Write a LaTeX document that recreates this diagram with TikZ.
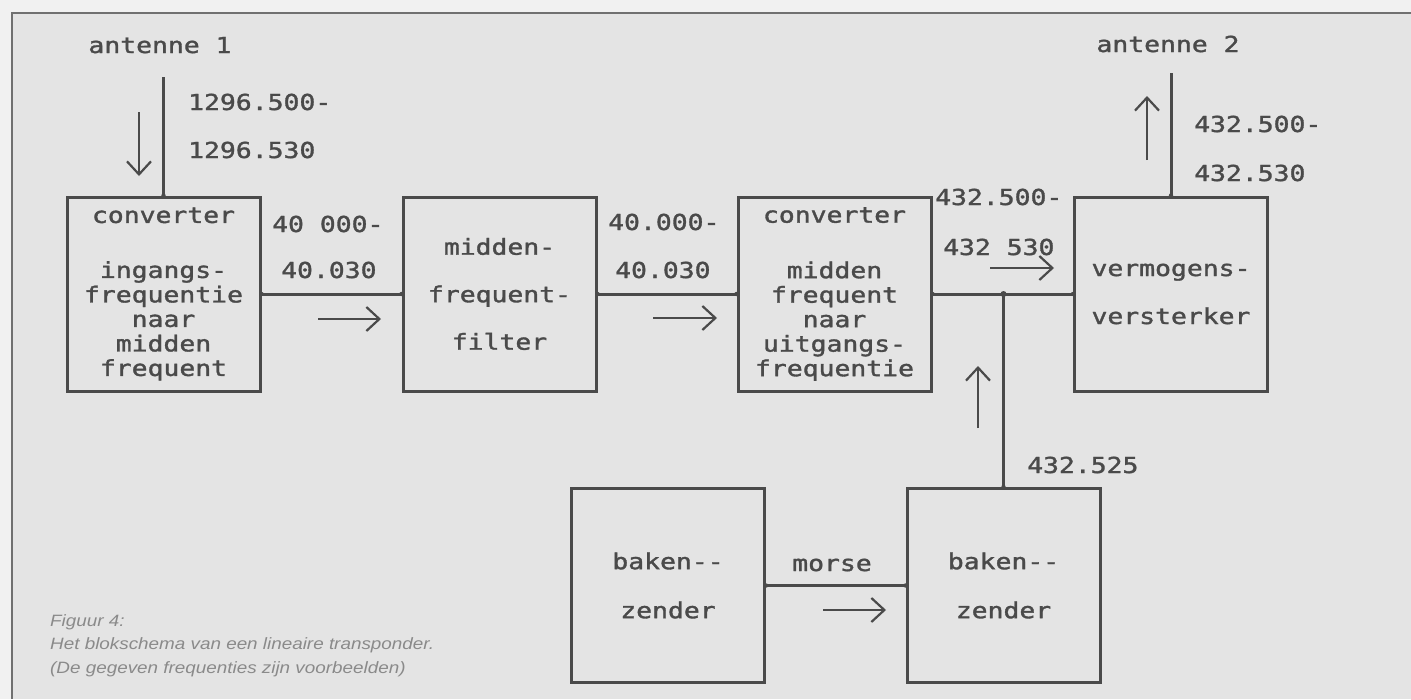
\documentclass[tikz,border=0pt]{standalone}
\usepackage{fontspec}
\usetikzlibrary{arrows.meta}
\newfontfamily\plotfont[FakeStretch=1.2,FakeBold=1.5]{DejaVu Sans Mono}
\newfontfamily\capfont[FakeStretch=1.15]{Liberation Sans}
\definecolor{bgc}{HTML}{E4E4E4}
\definecolor{outc}{HTML}{F1F1F1}
\definecolor{ink}{HTML}{4A4A4A}
\definecolor{framec}{HTML}{707070}
\definecolor{capc}{HTML}{8A8A8A}
\tikzset{
  blk/.style={draw=ink, line width=3pt, minimum width=193pt, minimum height=194pt,
    inner sep=0pt, font=\plotfont\fontsize{22}{24.5}\selectfont, text=ink, align=center},
  lbl/.style={font=\plotfont\fontsize{22}{24}\selectfont, text=ink, inner sep=0pt, anchor=base west},
  wire/.style={draw=ink, line width=3pt},
  flow/.style={draw=ink, line width=2.2pt, -{Straight Barb[length=13pt,width=24pt]}},
  jdot/.style={circle, fill=ink, inner sep=0pt, minimum size=6pt},
  captext/.style={font=\capfont\itshape\fontsize{16.4}{23.5}\selectfont, text=capc, inner sep=0pt, anchor=base west},
}
\begin{document}
\begin{tikzpicture}[x=1pt,y=-1pt]
\useasboundingbox (0,0) rectangle (1411,699);
\fill[outc] (0,0) rectangle (1411,699);
\fill[bgc] (12,13) rectangle (1411,699);
\draw[framec, line width=1.5pt] (12,699) -- (12,13) -- (1411,13);

% blocks
\node[blk] (conv1) at (163.5,294) {converter\\[30.5pt]ingangs-\\frequentie\\naar\\midden\\frequent};
\node[blk] (mf) at (499.5,294) {midden-\\[23pt]frequent-\\[23pt]filter};
\node[blk] (conv2) at (834.5,294) {converter\\[31pt]midden\\frequent\\naar\\uitgangs-\\frequentie};
\node[blk] (pa) at (1171,294) {vermogens-\\[23.5pt]versterker};
\node[blk] (bak1) at (668,585.5) {baken--\\[24.5pt]zender};
\node[blk] (bak2) at (1003.5,585.5) {baken--\\[24.5pt]zender};

% free ends
\coordinate (ant1) at (163.5,77);
\coordinate (ant2) at (1171,73);
\coordinate (j) at (bak2.north |- conv2.east);

% wires
\draw[wire] (ant1) -- (conv1.north);
\draw[wire] (conv1.east) -- (mf.west);
\draw[wire] (mf.east) -- (conv2.west);
\draw[wire] (conv2.east) -- (pa.west);
\draw[wire] (j) -- (bak2.north);
\draw[wire] (pa.north) -- (ant2);
\draw[wire] (bak1.east) -- (bak2.west);
\node[jdot] (jd) at (j) {};
\foreach \p in {conv1.north,conv1.east,mf.west,mf.east,conv2.west,conv2.east,pa.west,pa.north,bak2.north,bak1.east,bak2.west}
  \fill[ink] (\p) circle (2.2pt);

% signal direction arrows
\coordinate (f1a) at (139,112);  \coordinate (f1b) at (139,176);
\coordinate (f2a) at (318,319);  \coordinate (f2b) at (381,319);
\coordinate (f3a) at (653,318);  \coordinate (f3b) at (717,318);
\coordinate (f4a) at (990,268);  \coordinate (f4b) at (1054,268);
\coordinate (f5a) at (1147,160); \coordinate (f5b) at (1147,96);
\coordinate (f6a) at (978,428);  \coordinate (f6b) at (978,366);
\coordinate (f7a) at (823,610);  \coordinate (f7b) at (886,610);
\draw[flow] (f1a) -- (f1b);
\draw[flow] (f2a) -- (f2b);
\draw[flow] (f3a) -- (f3b);
\draw[flow] (f4a) -- (f4b);
\draw[flow] (f5a) -- (f5b);
\draw[flow] (f6a) -- (f6b);
\draw[flow] (f7a) -- (f7b);

% labels
\node[lbl, anchor=base] (lant1) at (160,53) {antenne 1};
\node[lbl, anchor=base] (lant2) at (1168,52) {antenne 2};
\node[lbl] (l1a) at (188,110) {1296.500-};
\node[lbl] (l1b) at (188,158) {1296.530};
\node[lbl] (l2a) at (272,232) {40 000-};
\node[lbl] (l2b) at (281,278) {40.030};
\node[lbl] (l3a) at (608,230) {40.000-};
\node[lbl] (l3b) at (615,278) {40.030};
\node[lbl] (l4a) at (935,205) {432.500-};
\node[lbl] (l4b) at (943,255) {432 530};
\node[lbl] (l5a) at (1194,132) {432.500-};
\node[lbl] (l5b) at (1194,181) {432.530};
\node[lbl] (l6) at (1027,473) {432.525};
\node[lbl, anchor=base] (lmorse) at (832,571) {morse};

% caption
\node[captext] (cap1) at (50,626) {Figuur 4:};
\node[captext] (cap2) at (50,649) {Het blokschema van een lineaire transponder.};
\node[captext] (cap3) at (50,673) {(De gegeven frequenties zijn voorbeelden)};
\end{tikzpicture}
\end{document}
